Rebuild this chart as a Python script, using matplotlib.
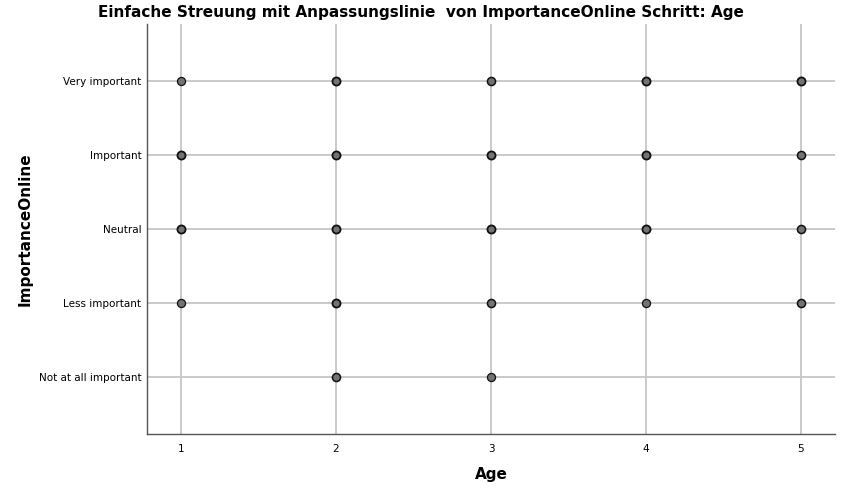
import matplotlib
matplotlib.use("Agg")
import matplotlib.pyplot as plt

# Categories on the y axis (1 = Not at all important ... 5 = Very important)
importance_labels = ["Not at all important", "Less important", "Neutral",
                     "Important", "Very important"]
age_ticks = [1, 2, 3, 4, 5]

# observed points: (age, importance level, overlap weight)
age_vals = [1, 2, 3, 4, 5,
            1, 2, 3, 4, 5,
            1, 2, 3, 4, 5,
            1, 2, 3, 4, 5,
            2, 3]
imp_vals = [5, 5, 5, 5, 5,
            4, 4, 4, 4, 4,
            3, 3, 3, 3, 3,
            2, 2, 2, 2, 2,
            1, 1]
overlap = [1, 3, 2, 3, 3,
           3, 3, 3, 3, 2,
           3, 3, 3, 3, 2,
           1, 3, 2, 1, 2,
           2, 1]

plt.rcParams['font.family'] = ['DejaVu Sans']

fig = plt.figure(figsize=(8.41, 4.94), dpi=100)
ax = fig.add_axes([147 / 841, 60 / 494, 688 / 841, 410 / 494])

for a, i, n in zip(age_vals, imp_vals, overlap):
    ax.scatter([a], [i], s=34, c='#737373', edgecolors='#111111',
               linewidths=0.7 + 0.2 * n, zorder=3)

ax.set_xlim(0.78, 5.22)
ax.set_ylim(0.23, 5.77)
ax.set_xticks(age_ticks)
ax.set_yticks(range(1, 6))
ax.set_yticklabels(importance_labels)
ax.tick_params(length=0, labelsize=7.5, pad=4)
ax.tick_params(axis='x', pad=7)
ax.grid(True, color='#c6c6c6', linewidth=1.3, zorder=0)
ax.set_axisbelow(True)

for s in ['top', 'right']:
    ax.spines[s].set_visible(False)
for s in ['left', 'bottom']:
    ax.spines[s].set_color('#555555')
    ax.spines[s].set_linewidth(1)

ax.set_xlabel('Age', fontsize=11, fontweight='bold')
ax.set_ylabel('ImportanceOnline', fontsize=11, fontweight='bold')
ax.xaxis.set_label_coords((491 - 147) / 688, -(467 - 434) / 410)
ax.yaxis.set_label_coords(-(147 - 33) / 688, 0.5)
fig.text(0.5, 1 - 12 / 494, 'Einfache Streuung mit Anpassungslinie  von ImportanceOnline Schritt: Age',
         ha='center', va='center', fontsize=11, fontweight='bold')

fig.savefig('out.png', dpi=100)
